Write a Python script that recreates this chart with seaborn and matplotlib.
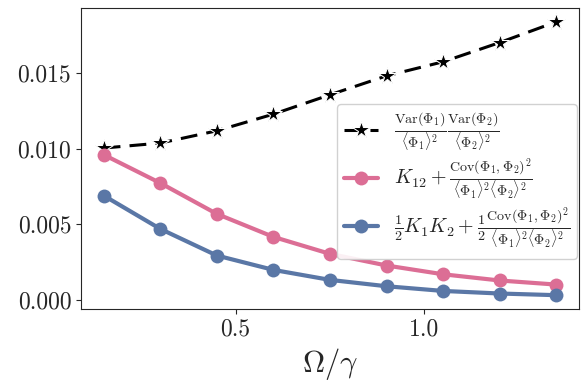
import numpy as np
import pandas as pd
import seaborn as sns
import matplotlib
matplotlib.use("Agg")
from matplotlib import pyplot as plt

# values
omega = [0.15, 0.30, 0.45, 0.60, 0.75, 0.90, 1.05, 1.20, 1.35]
var_prod = [0.01003, 0.01036, 0.01117, 0.01227, 0.01355, 0.01480, 0.01573, 0.01700, 0.01837]
k12_cov = [0.00959, 0.00772, 0.00568, 0.00416, 0.00304, 0.00227, 0.00169, 0.00128, 0.00101]
k1k2_cov = [0.00689, 0.00469, 0.00293, 0.00198, 0.00132, 0.00090, 0.00059, 0.00042, 0.00031]

lab_var = r'$\frac{\mathrm{Var}(\Phi_1)}{\langle\Phi_1\rangle^2}\frac{\mathrm{Var}(\Phi_2)}{\langle\Phi_2\rangle^2}$'
lab_k12 = r'$K_{12}+\frac{\mathrm{Cov}(\Phi_1,\Phi_2)^2}{\langle\Phi_1\rangle^2\langle\Phi_2\rangle^2}$'
lab_k1k2 = r'$\frac{1}{2}K_1K_2+\frac{1}{2}\frac{\mathrm{Cov}(\Phi_1,\Phi_2)^2}{\langle\Phi_1\rangle^2\langle\Phi_2\rangle^2}$'

df = pd.DataFrame({"omega": omega, "var": var_prod, "k12": k12_cov, "k1k2": k1k2_cov})

sns.set_style("ticks")
plt.rcParams["font.family"] = "serif"
plt.rcParams["font.serif"] = ["cmr10", "DejaVu Serif"]
plt.rcParams["mathtext.fontset"] = "cm"
plt.rcParams["axes.formatter.use_mathtext"] = True
plt.rcParams["axes.unicode_minus"] = False

fig = plt.figure(figsize=(5.83, 3.88), dpi=100)
ax = fig.add_axes([0.139, 0.204, 0.854, 0.775])

sns.lineplot(data=df, x="omega", y="var", ax=ax, color="black", linestyle="--",
             marker="*", markersize=13, linewidth=2.2, dashes=False, label=lab_var)
ax.lines[-1].set_dashes([5.5, 3])
sns.lineplot(data=df, x="omega", y="k12", ax=ax, color="#dc6e95",
             marker="o", markersize=10, markeredgewidth=0, linewidth=3, label=lab_k12)
sns.lineplot(data=df, x="omega", y="k1k2", ax=ax, color="#5a77a6",
             marker="o", markersize=10, markeredgewidth=0, linewidth=3, label=lab_k1k2)

ax.set_xticks([0.5, 1.0])
ax.set_yticks([0.0, 0.005, 0.010, 0.015])
ax.set_yticklabels(["0.000", "0.005", "0.010", "0.015"])
ax.set_xticklabels(["0.5", "1.0"])
ax.tick_params(labelsize=17)
ax.set_xlabel(r'$\Omega/\gamma$', fontsize=22)
ax.set_ylabel("")
ax.legend(loc="upper right", bbox_to_anchor=(0.997, 0.681), borderaxespad=0,
          fontsize=14.5, handlelength=1.7, handletextpad=0.8, labelspacing=0.12,
          borderpad=0.35, framealpha=0.9)

fig.savefig("out.png", dpi=100)
